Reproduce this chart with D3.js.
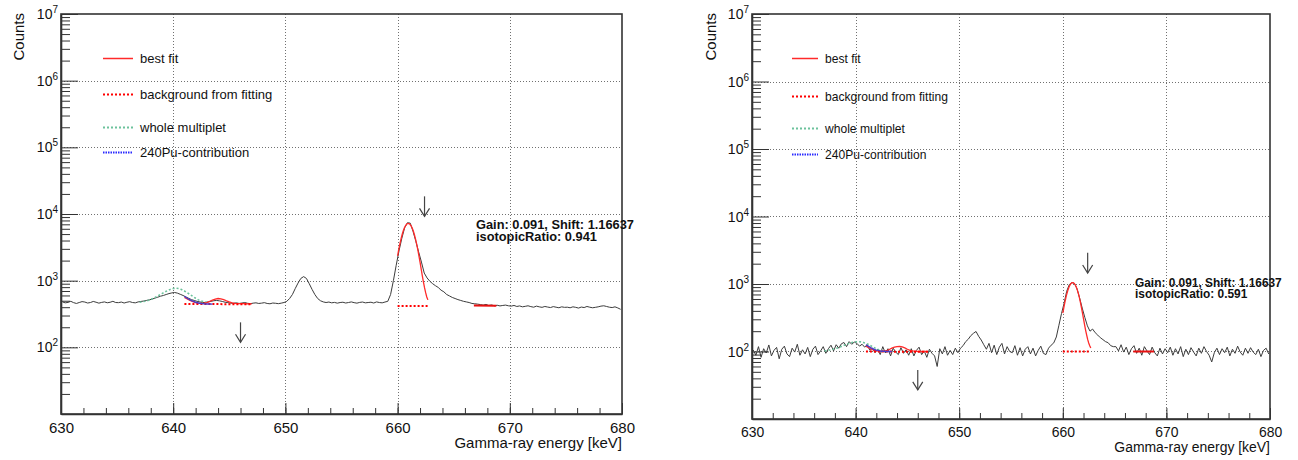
<!DOCTYPE html>
<html>
<head>
<meta charset="utf-8">
<script src="https://cdn.jsdelivr.net/npm/d3@7"></script>
<style>
body { margin: 0; background: #fff; }
text { font-family: "Liberation Sans", Arial, Helvetica, sans-serif; fill: #111; }
</style>
</head>
<body>
<script>
// histogram binning (keV)
var binLo = 630, binW = 0.25

// measured spectrum, left panel (counts per bin)
var spectrumL = [
  480,465,472,490,468,455,470,485,478,462,470,488,475,460,472,480,466,474,490,470,
  468,478,462,475,484,470,465,480,488,495,505,515,530,548,565,585,600,620,640,655,
  665,650,625,600,570,545,520,505,490,480,470,472,480,490,500,505,498,488,475,468,
  460,458,465,455,462,470,458,452,460,465,455,460,468,455,450,462,458,452,460,470,
  490,540,620,760,920,1080,1150,1080,900,740,620,540,500,480,470,478,465,472,460,470,
  475,462,470,480,468,460,472,478,465,470,475,462,480,470,465,478,490,620,1000,1700,
  2800,4300,6200,7400,7300,5500,3900,2700,1900,1300,1100,980,900,840,790,720,680,620,590,560,
  540,520,505,490,480,470,455,450,445,438,430,440,425,432,420,428,418,425,430,420,
  415,425,410,418,405,412,420,408,400,415,405,398,410,402,395,408,400,392,405,398,
  400,392,405,398,388,402,395,410,400,392,398,405,415,420,410,400,395,405,390,372
]

// measured spectrum, right panel
var spectrumR = [
  105,88,118,82,110,95,125,86,104,115,78,108,120,92,84,112,98,128,88,106,
  92,115,84,108,120,90,102,118,94,110,124,102,126,112,130,136,118,140,128,138,
  132,120,128,116,126,104,112,96,108,90,118,95,110,86,112,98,90,114,94,106,
  88,110,86,104,116,90,102,82,108,94,86,60,110,92,118,88,104,90,112,96,
  112,122,140,152,172,186,198,168,148,126,108,132,96,124,90,116,132,92,118,100,
  96,122,88,114,86,108,118,92,112,86,104,120,94,90,112,124,134,164,245,365,
  520,780,980,1050,1020,850,620,440,320,240,200,215,190,175,160,150,140,135,122,118,
  118,102,126,98,116,90,110,122,94,112,88,118,102,90,116,96,86,112,92,110,
  96,116,88,110,92,118,84,108,90,114,98,86,112,94,118,100,88,70,96,112,
  90,110,96,116,86,108,94,120,98,88,112,94,114,98,90,108,84,104,112,92
]

// best fit of the 662 keV peak
var peakFitE = [660.0,660.1,660.2,660.3,660.4,660.5,660.6,660.7,660.8,660.9,661.0,661.1,661.2,661.3,
  661.4,661.5,661.6,661.7,661.8,661.9,662.0,662.1,662.2,662.3,662.4,662.5,662.6,662.7]
var peakFitL = [2360,2910,3530,4200,4885,5550,6150,6650,7010,7190,7190,7010,6650,6150,
  5550,4885,4200,3530,2910,2360,1890,1500,1190,960,785,660,570,515]
var peakFitR = [371,448,535,628,724,817,901,971,1021,1047,1047,1021,971,901,
  817,724,628,535,448,371,305,251,208,176,151,134,122,113]

// background under the peak and the short background segment right of it
var peakBgE = [660.0, 662.7]
var peakBgL = [417, 417]
var peakBgR = [100, 100]
var tailBgE = [666.8, 668.8]
var tailBgL = [423, 420]
var tailBgR = [100, 100]

// best fit of the multiplet region
var smallFitE = [641.0,641.25,641.5,641.75,642.0,642.25,642.5,642.75,643.0,643.25,643.5,643.75,644.0,
  644.25,644.5,644.75,645.0,645.25,645.5,645.75,646.0,646.25,646.5,646.75,647.0]
var smallFitL = [560,530,505,485,470,462,458,460,470,488,510,530,540,535,518,498,480,466,458,454,452,451,450,450,450]
var smallFitR = [120,114,109,105,102,101,100,101,103,107,112,116,118,119,117,113,108,104,102,101,100,100,100,100,100]
var smallBgE = [641.0, 647.0]
var smallBgL = [447, 443]
var smallBgR = [100, 99]

// whole multiplet
var multE = [637.0,637.25,637.5,637.75,638.0,638.25,638.5,638.75,639.0,639.25,639.5,639.75,640.0,
  640.25,640.5,640.75,641.0,641.25,641.5,641.75,642.0,642.25,642.5,642.75,643.0]
var multL = [475,482,492,505,522,545,572,605,640,675,710,740,762,770,760,735,700,660,620,580,545,515,495,480,470]
var multR = [102,103,105,107,110,113,117,121,126,130,134,137,139,140,139,136,132,127,121,115,110,106,103,101,100]

// 240Pu contribution
var puE = [641.0,641.25,641.5,641.75,642.0,642.25,642.5,642.75,643.0,643.25,643.5]
var puL = [580,545,515,492,475,462,455,450,447,446,445]
var puR = [125,119,113,108,105,103,101,101,100,100,100]

// arrow markers (energy, top and tip in counts)
var arrowE = [646, 662.4]
var arrowTopL = [237, 18400]
var arrowTipL = [119, 9200]
var arrowTopR = [53, 2900]
var arrowTipR = [27, 1455]

var xTicks = [630, 640, 650, 660, 670, 680]
var yLabelExp = [2, 3, 4, 5, 6, 7]
var legendLabels = ["best fit", "background from fitting", "whole multiplet", "240Pu-contribution"]
var gainText = "Gain: 0.091, Shift: 1.16637"
var ratioL = "isotopicRatio: 0.941"
var ratioR = "isotopicRatio: 0.591"

var svg = d3.select("body").append("svg")
  .attr("width", 1298)
  .attr("height", 460)

var legendStyles = [
  {color: "#ff2a2a", dash: null, width: 1.3},
  {color: "#ff0000", dash: "2,2", width: 2},
  {color: "#6cc29c", dash: "2,2", width: 1.6},
  {color: "#2a2aff", dash: "1.5,1", width: 1.6}
]

var panels = [
  {x0: 61, x1: 622, y0: 14, y1: 414, fs: 1, spec: spectrumL, peak: peakFitL, peakBg: peakBgL, tailBg: tailBgL,
   small: smallFitL, smallBg: smallBgL, mult: multL, pu: puL, aTop: arrowTopL, aTip: arrowTipL, ratio: ratioL,
   legLine: [103, 133], legText: 140, legRows: [58, 94, 127, 152], noteX: 476, noteY: [229, 241],
   countsX: 23.5, xlabY: 448},
  {x0: 752, x1: 1270, y0: 14, y1: 419, fs: 0.93, spec: spectrumR, peak: peakFitR, peakBg: peakBgR, tailBg: tailBgR,
   small: smallFitR, smallBg: smallBgR, mult: multR, pu: puR, aTop: arrowTopR, aTip: arrowTipR, ratio: ratioR,
   legLine: [792, 818], legText: 825, legRows: [58, 96, 128, 154], noteX: 1135, noteY: [287, 298],
   countsX: 715.5, xlabY: 452}
]

function crisp(v){ return Math.round(v) + 0.5 }

panels.forEach(function(p){
  var x = d3.scaleLinear().domain([630, 680]).range([p.x0, p.x1])
  var y = d3.scaleLog().domain([10, 1e7]).range([p.y1, p.y0])
  var g = svg.append("g")

  // grid
  g.selectAll("line.gx")
    .data(xTicks.slice(1, -1))
    .enter()
    .append("line")
    .classed("gx", true)
    .attr("x1", function(d){ return crisp(x(d)) })
    .attr("x2", function(d){ return crisp(x(d)) })
    .attr("y1", p.y0)
    .attr("y2", p.y1)
    .attr("stroke", "#707070")
    .attr("stroke-dasharray", "1,2")
    .attr("shape-rendering", "crispEdges")

  g.selectAll("line.gy")
    .data([1e2, 1e3, 1e4, 1e5, 1e6])
    .enter()
    .append("line")
    .classed("gy", true)
    .attr("x1", p.x0)
    .attr("x2", p.x1)
    .attr("y1", function(d){ return crisp(y(d)) })
    .attr("y2", function(d){ return crisp(y(d)) })
    .attr("stroke", "#707070")
    .attr("stroke-dasharray", "1,2")
    .attr("shape-rendering", "crispEdges")

  var line = d3.line()
    .x(function(d){ return x(d[0]) })
    .y(function(d){ return y(d[1]) })

  // spectrum through bin centres
  var pts = p.spec.map(function(v, i){ return [binLo + (i + 0.5)*binW, v] })
  g.append("path")
    .datum(pts)
    .attr("d", line)
    .attr("fill", "none")
    .attr("stroke", "#3c3c3c")
    .attr("stroke-width", 1)

  function zipE(es, vs){ return es.map(function(e, i){ return [e, vs[i]] }) }
  function curve(es, vs, st){
    g.append("path")
      .datum(zipE(es, vs))
      .attr("d", line)
      .attr("fill", "none")
      .attr("stroke", st.color)
      .attr("stroke-width", st.width)
      .attr("stroke-dasharray", st.dash)
  }

  curve(multE, p.mult, legendStyles[2])
  curve(smallFitE, p.small, legendStyles[0])
  curve(smallBgE, p.smallBg, legendStyles[1])
  curve(puE, p.pu, {color: "#4b3cc8", dash: null, width: 1.4})
  curve(peakFitE, p.peak, legendStyles[0])
  curve(peakBgE, p.peakBg, legendStyles[1])
  curve(tailBgE, p.tailBg, {color: "#e81010", dash: null, width: 2})

  // arrows
  arrowE.forEach(function(e, i){
    var ax = x(e), yt = y(p.aTop[i]), yb = y(p.aTip[i])
    g.append("line")
      .attr("x1", ax).attr("x2", ax)
      .attr("y1", yt).attr("y2", yb)
      .attr("stroke", "#444")
      .attr("stroke-width", 1.2)
    g.append("path")
      .attr("d", "M" + (ax-5) + "," + (yb-8) + "L" + ax + "," + yb + "L" + (ax+5) + "," + (yb-8))
      .attr("fill", "none")
      .attr("stroke", "#444")
      .attr("stroke-width", 1.2)
  })

  // axes, ticks inside the frame
  var xa = g.append("g")
    .attr("transform", "translate(0," + p.y1 + ")")
    .call(d3.axisBottom(x).tickValues(xTicks).tickSize(-11).tickSizeOuter(0).tickPadding(8).tickFormat(d3.format("d")))
  xa.selectAll("text")
    .attr("font-size", 15*p.fs)
    .attr("font-family", "Liberation Sans, Arial, sans-serif")
    .attr("fill", "#111")
  g.append("g")
    .attr("transform", "translate(0," + p.y1 + ")")
    .call(d3.axisBottom(x).tickValues(d3.range(632, 680, 2)).tickSize(-6).tickFormat(""))
    .select(".domain").remove()

  var yMinor = []
  for (var e = 1; e < 7; e++) for (var k = 2; k < 10; k++) yMinor.push(k*Math.pow(10, e))
  g.append("g")
    .attr("transform", "translate(" + p.x0 + ",0)")
    .call(d3.axisLeft(y).tickValues([1e1,1e2,1e3,1e4,1e5,1e6,1e7]).tickSize(-17).tickSizeOuter(0).tickFormat(""))
  g.append("g")
    .attr("transform", "translate(" + p.x0 + ",0)")
    .call(d3.axisLeft(y).tickValues(yMinor).tickSize(-9).tickFormat(""))
    .select(".domain").remove()

  g.selectAll(".tick line").attr("stroke", "#333")
  g.selectAll(".domain").attr("stroke", "#333").attr("stroke-width", 1.6)

  // frame
  g.append("rect")
    .attr("x", p.x0).attr("y", p.y0)
    .attr("width", p.x1 - p.x0).attr("height", p.y1 - p.y0)
    .attr("fill", "none")
    .attr("stroke", "#333")
    .attr("stroke-width", 1.6)

  // y labels 10^n
  var yl = g.selectAll("text.ylab")
    .data(yLabelExp)
    .enter()
    .append("text")
    .classed("ylab", true)
    .attr("x", p.x0 - 3)
    .attr("y", function(d){ return y(Math.pow(10, d)) + 5 })
    .attr("text-anchor", "end")
  yl.append("tspan").attr("font-size", 14).text("10")
  yl.append("tspan").attr("font-size", 10).attr("dy", -6).text(function(d){ return d })

  // axis titles
  g.append("text")
    .attr("transform", "translate(" + p.countsX + "," + (p.y0 - 1) + ") rotate(-90)")
    .attr("text-anchor", "end")
    .attr("font-size", 15)
    .text("Counts")
  g.append("text")
    .attr("x", p.x1)
    .attr("y", p.xlabY)
    .attr("text-anchor", "end")
    .attr("font-size", 15*p.fs)
    .text("Gamma-ray energy [keV]")

  // legend
  legendLabels.forEach(function(lab, i){
    var st = legendStyles[i]
    g.append("path")
      .attr("d", "M" + p.legLine[0] + "," + (p.legRows[i] + 0.5) + "H" + p.legLine[1])
      .attr("fill", "none")
      .attr("stroke", st.color)
      .attr("stroke-width", i == 0 ? 1.5 : 2)
      .attr("stroke-dasharray", st.dash)
    g.append("text")
      .attr("x", p.legText)
      .attr("y", p.legRows[i] + 4.5)
      .attr("font-size", 13*p.fs)
      .text(lab)
  })

  // fit parameters
  g.selectAll("text.note")
    .data([gainText, p.ratio])
    .enter()
    .append("text")
    .classed("note", true)
    .attr("x", p.noteX)
    .attr("y", function(d, i){ return p.noteY[i] })
    .attr("font-size", 12.8*p.fs)
    .attr("font-weight", "bold")
    .attr("fill", "#111")
    .text(function(d){ return d })
})
</script>
</body>
</html>
